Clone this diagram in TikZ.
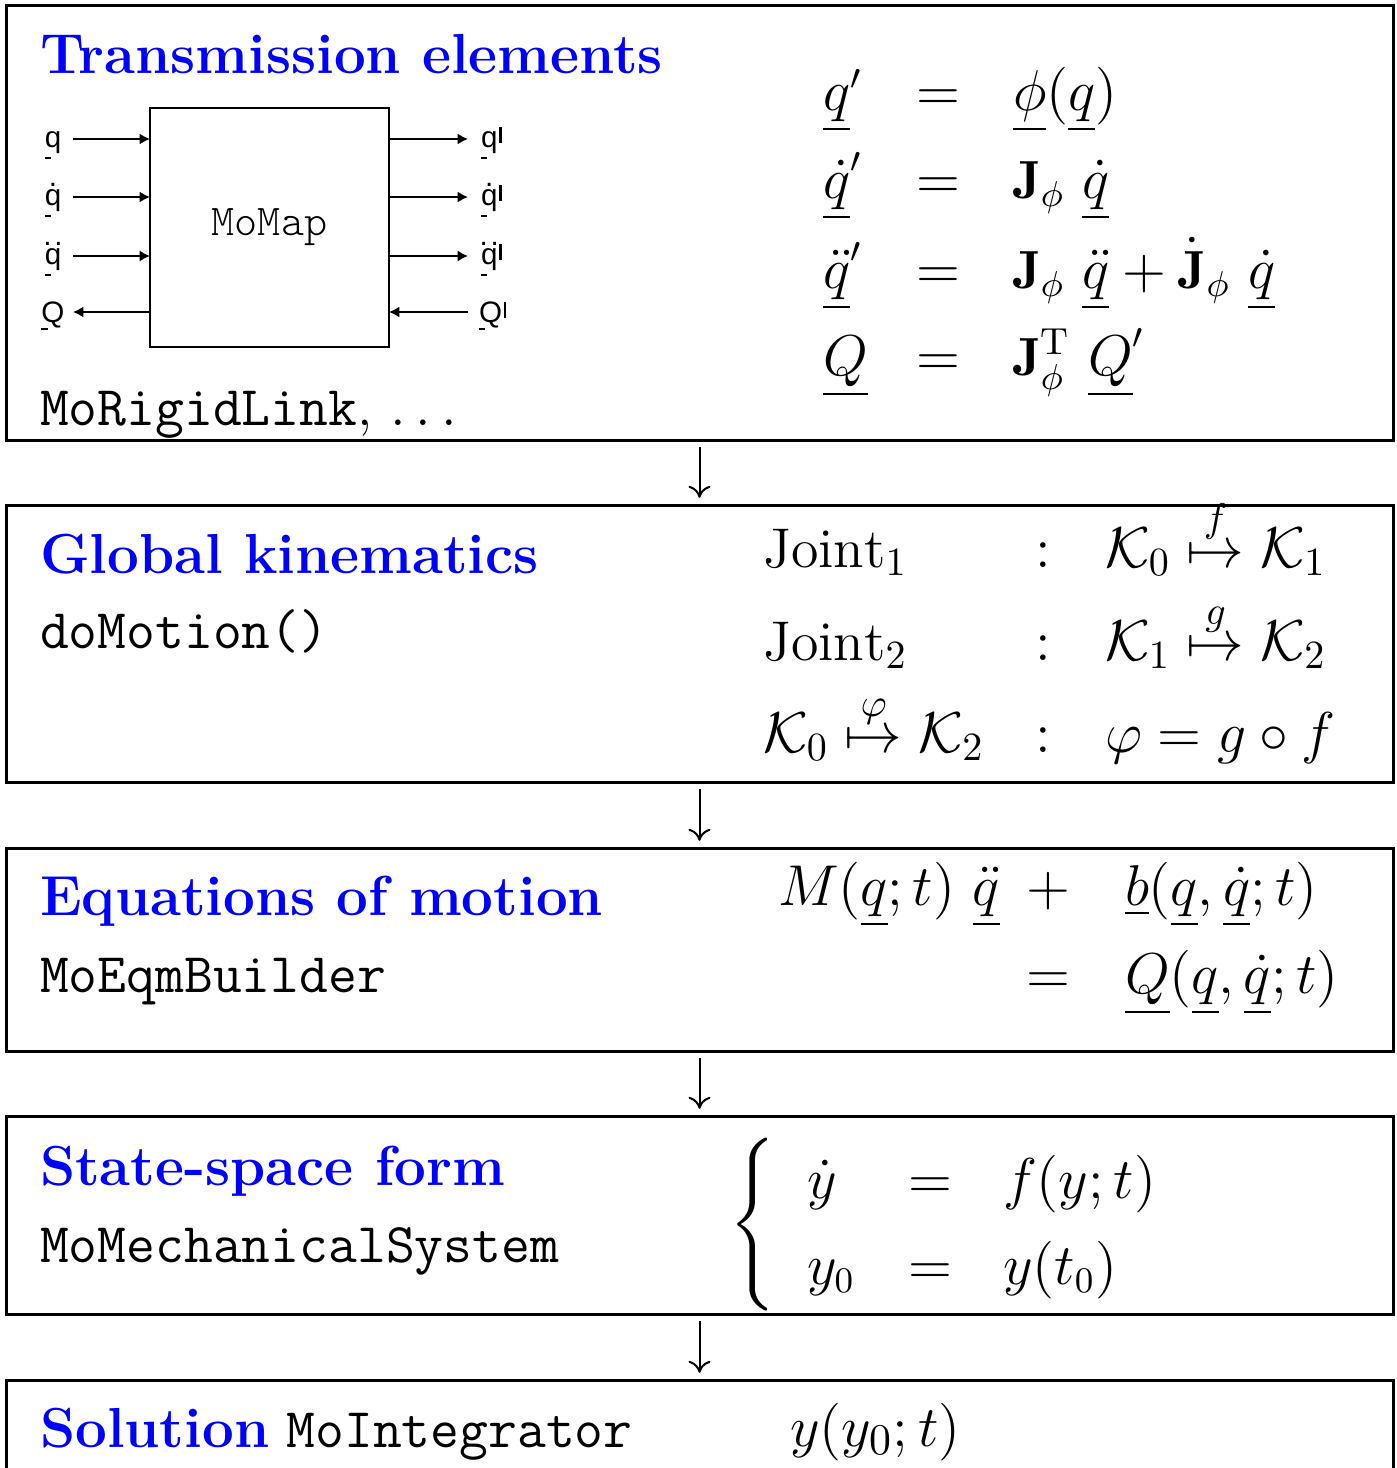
\documentclass[tikz,border=0pt]{standalone}
\usepackage{fontspec}
\usepackage{amsmath}
\usepackage{graphicx}
\usetikzlibrary{arrows.meta}
\newfontfamily\lsans{Liberation Sans}
\newfontfamily\lmlight{lmmonolt10-regular}[Extension=.otf]
\definecolor{ttlblue}{RGB}{0,0,255}
\newcommand\tfont{\fontsize{14.1}{17}\selectfont\bfseries\color{ttlblue}}
\newcommand\cfont{\fontsize{14}{16}\selectfont\ttfamily}
\newcommand\mfont{\fontsize{13.45}{16}\selectfont}
\newcommand\jfont{\fontsize{14}{16}\selectfont}
\newcommand\lfont{\fontsize{7.4}{9}\selectfont\lsans}
\newcommand\sul[2][3pt]{\leavevmode\rlap{\rule[-#1]{1.6pt}{0.4pt}}#2}
\newcommand\sdt[1]{\ooalign{#1\cr\hidewidth\raisebox{0.64em}{.}\hidewidth\cr}}
\newcommand\sddt[1]{\ooalign{#1\cr\hidewidth\raisebox{0.64em}{.\kern0.1em.}\hidewidth\cr}}
\newcommand\tk{\kern0.06em\rule[0.12em]{0.08em}{0.55em}}
\begin{document}
\begin{tikzpicture}[x=0.25pt,y=-0.25pt,
  bigbox/.style={draw, line width=0.75pt, minimum width=346.75pt, inner sep=0pt, outer sep=0pt},
  txt/.style={inner sep=0pt, outer sep=0pt, anchor=base west},
  ctr/.style={inner sep=0pt, outer sep=0pt, anchor=base},
  mth/.style={font=\mfont},
  jth/.style={font=\jfont},
  ttl/.style={font=\tfont},
  code/.style={font=\cfont},
  lbl/.style={inner sep=0pt, outer sep=0pt, font=\lfont},
  sig/.style={line width=0.5pt, -{Latex[length=2.6pt,width=2.8pt]}},
  flowarr/.style={line width=0.5pt, -{Computer Modern Rightarrow[length=3pt,width=5.5pt]}, shorten <=1.8pt, shorten >=1.8pt}]
\useasboundingbox (0,0) rectangle (1396,1468);
\clip (0,0) rectangle (1396,1468);

% ---------- boxes ----------
\node[bigbox, minimum height=108.75pt] (b1) at (699.5,222.5) {};
\node[bigbox, minimum height=69.25pt] (b2) at (699.5,643.5) {};
\node[bigbox, minimum height=50.75pt] (b3) at (699.5,949.5) {};
\node[bigbox, minimum height=49.5pt] (b4) at (699.5,1215) {};
\node[bigbox, minimum height=55pt] (b5) at (699.5,1490) {};

\draw[flowarr] (b1.south) -- (b2.north);
\draw[flowarr] (b2.south) -- (b3.north);
\draw[flowarr] (b3.south) -- (b4.north);
\draw[flowarr] (b4.south) -- (b5.north);

% ---------- box 1 ----------
\node[txt, ttl] (t1) at (40,73) {Transmission elements};
\node[txt, code] (c1) at (40,425) {MoRigidLink{\rmfamily, $\ldots$}};

\node[draw, line width=0.5pt, minimum width=59.75pt, minimum height=59.75pt, inner sep=0pt, outer sep=0pt,
      font=\fontsize{11}{13}\selectfont\lmlight] (mm) at (269.5,227.5) {\raisebox{0.8pt}{MoMap}};

\coordinate (a1) at (73,139);
\coordinate (a2) at (73,197);
\coordinate (a3) at (73,256);
\coordinate (a4) at (73,312);
\coordinate (o1) at (468,139);
\coordinate (o2) at (468,197);
\coordinate (o3) at (468,256);
\coordinate (o4) at (468,312);
\draw[sig] (a1) -- (a1 -| mm.west);
\draw[sig] (a2) -- (a2 -| mm.west);
\draw[sig] (a3) -- (a3 -| mm.west);
\draw[sig] (a4 -| mm.west) -- (a4);
\draw[sig] (o1 -| mm.east) -- (o1);
\draw[sig] (o2 -| mm.east) -- (o2);
\draw[sig] (o3 -| mm.east) -- (o3);
\draw[sig] (o4) -- (o4 -| mm.east);

\node[lbl, anchor=base] (l1) at (53,147) {\sul{q}};
\node[lbl, anchor=base] (l2) at (53,205) {\sul{\sdt{q}}};
\node[lbl, anchor=base] (l3) at (53,264) {\sul{\sddt{q}}};
\node[lbl, anchor=base] (l4) at (53,322) {\sul[2pt]{Q}};
\node[lbl, anchor=base west] (r1) at (481,147) {\sul{q}\tk};
\node[lbl, anchor=base west] (r2) at (481,205) {\sul{\sdt{q}}\tk};
\node[lbl, anchor=base west] (r3) at (481,264) {\sul{\sddt{q}}\tk};
\node[lbl, anchor=base west] (r4) at (479,322) {\sul[2pt]{Q}\tk};

\node[txt, mth] (e1l) at (823,110) {$\underline{q}'$};
\node[ctr, mth] (e1e) at (938,110) {$=$};
\node[txt, mth] (e1r) at (1013,110) {$\underline{\phi}(\underline{q})$};
\node[txt, mth] (e2l) at (823,198) {$\underline{\dot q}'$};
\node[ctr, mth] (e2e) at (938,198) {$=$};
\node[txt, mth] (e2r) at (1013,198) {$\mathbf{J}_\phi\ \underline{\dot q}$};
\node[txt, mth] (e3l) at (823,288) {$\underline{\ddot q}'$};
\node[ctr, mth] (e3e) at (938,288) {$=$};
\node[txt, mth] (e3r) at (1013,288) {$\mathbf{J}_\phi\ \underline{\ddot q}+\dot{\mathbf{J}}_\phi\ \underline{\dot q}$};
\node[txt, mth] (e4l) at (823,375) {$\underline{Q}$};
\node[ctr, mth] (e4e) at (938,375) {$=$};
\node[txt, mth] (e4r) at (1013,375) {$\mathbf{J}_\phi^{\mathrm{T}}\ \underline{Q}'$};

% ---------- box 2 ----------
\node[txt, ttl] (t2) at (40,573) {Global kinematics};
\node[txt, code] (c2) at (40,648) {doMotion()};
\node[txt, jth] (j1l) at (763,567) {$\mathrm{Joint}_1$};
\node[ctr, jth] (j1c) at (1043,567) {$:$};
\node[txt, jth] (j1r) at (1105,567) {$\mathcal{K}_0\stackrel{f}{\mapsto}\mathcal{K}_1$};
\node[txt, jth] (j2l) at (763,660) {$\mathrm{Joint}_2$};
\node[ctr, jth] (j2c) at (1043,660) {$:$};
\node[txt, jth] (j2r) at (1105,660) {$\mathcal{K}_1\stackrel{g}{\mapsto}\mathcal{K}_2$};
\node[txt, jth] (j3l) at (763,752) {$\mathcal{K}_0\stackrel{\varphi}{\mapsto}\mathcal{K}_2$};
\node[ctr, jth] (j3c) at (1043,752) {$:$};
\node[txt, jth] (j3r) at (1105,752) {$\varphi=g\circ f$};

% ---------- box 3 ----------
\node[txt, ttl] (t3) at (40,915) {Equations of motion};
\node[txt, code] (c3) at (40,992) {MoEqmBuilder};
\node[txt, mth] (m1l) at (778,905) {$M(\underline{q};t)\ \underline{\ddot q}$};
\node[ctr, mth] (m1c) at (1048,905) {$+$};
\node[txt, mth] (m1r) at (1125,905) {$\underline{b}(\underline{q},\underline{\dot q};t)$};
\node[ctr, mth] (m2c) at (1048,993) {$=$};
\node[txt, mth] (m2r) at (1125,993) {$\underline{Q}(\underline{q},\underline{\dot q};t)$};

% ---------- box 4 ----------
\node[txt, ttl] (t4) at (40,1185) {State-space form};
\node[txt, code] (c4) at (40,1262) {MoMechanicalSystem};
\node[inner sep=0pt, outer sep=0pt, mth] (br) at (755,1225) {$\left\{\vcenter{\hbox{\rule{0pt}{47pt}}}\right.$};
\node[txt, mth] (s1l) at (807,1198) {$\dot y$};
\node[ctr, mth] (s1c) at (930,1198) {$=$};
\node[txt, mth] (s1r) at (1003,1198) {$f(y;t)$};
\node[txt, mth] (s2l) at (807,1284) {$y_0$};
\node[ctr, mth] (s2c) at (930,1284) {$=$};
\node[txt, mth] (s2r) at (1003,1284) {$y(t_0)$};

% ---------- box 5 ----------
\node[txt] (t5) at (40,1447) {{\tfont Solution}\hspace{1pt} {\cfont MoIntegrator}};
\node[txt, font=\fontsize{15}{17}\selectfont] (sol) at (790,1446) {$y(y_0;t)$};
\end{tikzpicture}
\end{document}
